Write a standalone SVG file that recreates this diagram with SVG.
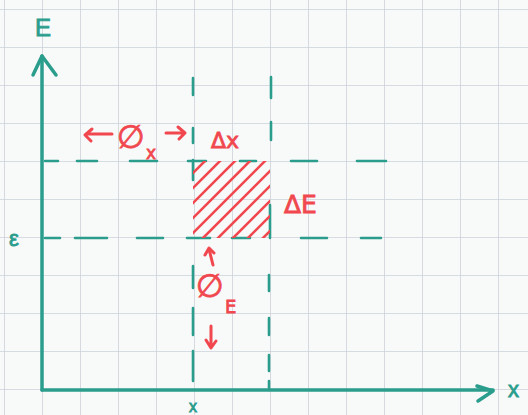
<svg xmlns="http://www.w3.org/2000/svg" width="528" height="415" viewBox="0 0 528 415">
<defs>
<pattern id="grid" x="4" y="9" width="38" height="38" patternUnits="userSpaceOnUse">
<path d="M0 0V38M0 0H38" fill="none" stroke="#cdd2da" stroke-width="1.6"/>
</pattern>
<clipPath id="cellclip"><rect x="193" y="161" width="77" height="77"/></clipPath>
<style>
.teal{stroke:#2a9d8c;fill:none;stroke-linecap:round;stroke-linejoin:round}
.red{stroke:#f0484e;fill:none;stroke-linecap:round;stroke-linejoin:round}
.tl{fill:#2a9d8c;stroke:#2a9d8c;stroke-width:0.8;font-family:"Liberation Sans",Arial,sans-serif}
.rl{fill:#f0484e;stroke:#f0484e;stroke-width:0.8;font-family:"DejaVu Sans","Liberation Sans",sans-serif}
</style>
</defs>
<rect width="528" height="415" fill="#f8f9f9"/>
<rect width="528" height="415" fill="url(#grid)"/>

<g id="connectors">
<g id="axes" class="teal" stroke-width="3.5">
<path d="M42 390V56"/>
<path d="M33 75L42 56L56 75"/>
<path d="M42 390H493"/>
<path d="M477 386L493 391L478 401"/>
</g>
<g id="guides" class="teal" stroke-width="2.6">
<path d="M45 161H58M77 161H97M130 161H157M188 161H206M240 161H256M291 161H317M357 161H386"/>
<path d="M45 238H60M75 238H107M137 238H163M187 238H210M232 238H250M301 238H327M361 238H381"/>
<path d="M193 78V95M193 128V143M193 160V180M193 266V288M193 308V335M193 351V381"/>
<path d="M271 77V98M271 122V140M270 205V238M269 275V291M269 318V335M269 355V371M269 381V390"/>
</g>
</g>

<g id="cell">
<g clip-path="url(#cellclip)" class="red" stroke-width="2.6">
<path d="M183 183L215 151M183 198L230 151M183 213L245 151M183 228L260 151M183 243L275 151M183 258L290 151M198 258L290 166M213 258L290 181M228 258L290 196M243 258L290 211M258 258L290 226"/>
</g>
</g>

<g id="label-phi-x">
<path class="red" stroke-width="3" d="M112 134H86M92 129L85 135L91 141"/>
<text class="rl" x="117" y="148" font-size="32">∅</text>
<text class="rl" x="146" y="159" font-size="17">x</text>
<path class="red" stroke-width="3" d="M166 133H184M178 127L185 133L179 139"/>
</g>
<g id="label-dx"><text class="rl" x="211" y="148" font-size="22">Δx</text></g>
<g id="label-dE"><text class="rl" x="284" y="213" font-size="25">ΔE</text></g>
<g id="label-phi-E">
<path class="red" stroke-width="3" d="M213 265L209 249M205 255L209 248L214 253"/>
<text class="rl" x="196" y="297" font-size="32">∅</text>
<text class="rl" x="225" y="313" font-size="18">E</text>
<path class="red" stroke-width="3" d="M211 326V347M206 340L211 348L216 341"/>
</g>

<g id="axis-labels">
<text class="tl" x="35" y="36" font-size="24">E</text>
<text class="tl" x="508" y="397" font-size="22">x</text>
<text class="tl" x="9" y="246" font-size="22">ε</text>
<text class="tl" x="189" y="412" font-size="16">x</text>
</g>
</svg>
